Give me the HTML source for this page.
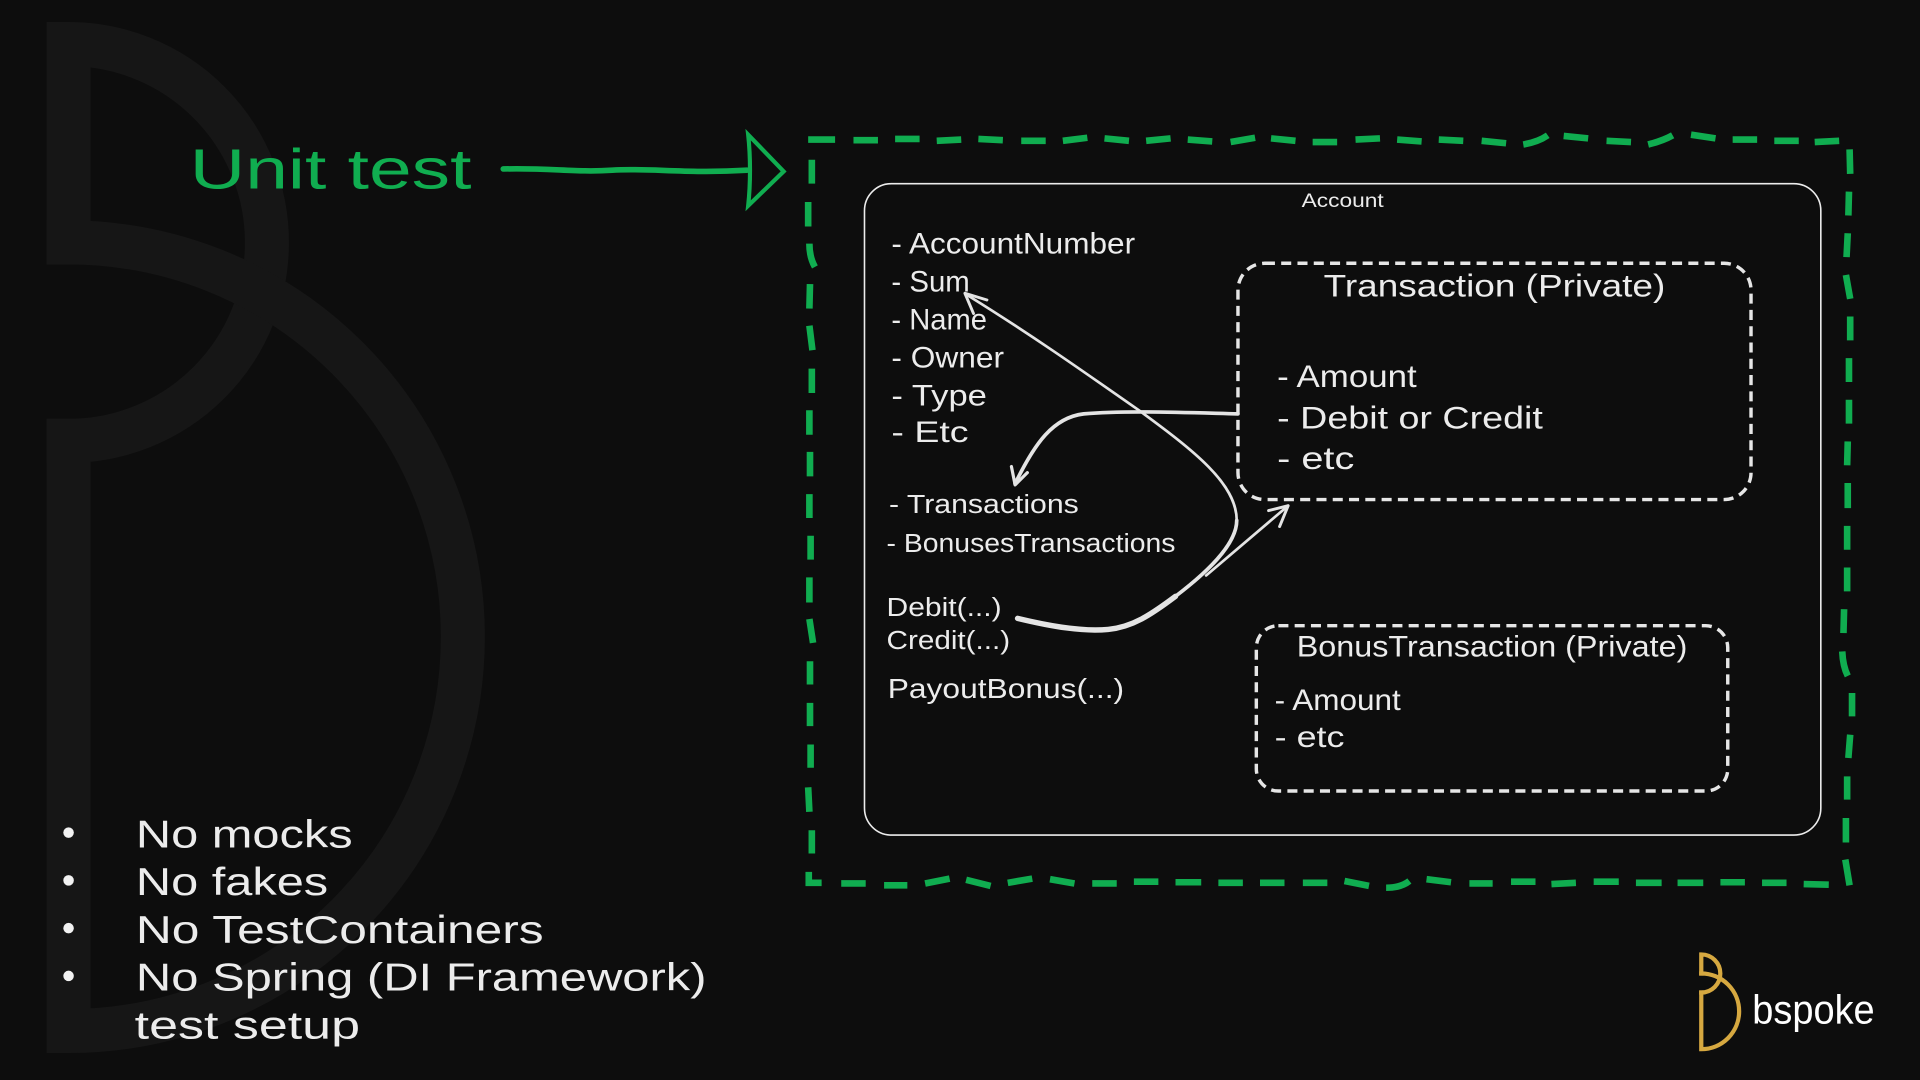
<!DOCTYPE html>
<html lang="en">
<head>
<meta charset="utf-8">
<title>Unit test</title>
<style>
html,body{margin:0;padding:0;background:#0d0d0d;width:1920px;height:1080px;overflow:hidden}
svg{display:block}
text{font-family:"Liberation Sans",sans-serif;fill:#ececec}
</style>
</head>
<body>
<svg width="1920" height="1080" viewBox="0 0 1568 882" xmlns="http://www.w3.org/2000/svg">
<rect width="1568" height="882" fill="#0d0d0d"/>
<!-- watermark -->
<g fill="none" stroke="#161616" stroke-width="36">
<path d="M56 216V36A162 162 0 0 1 56 360H38"/>
<path d="M56 342V842A322 322 0 0 0 56 198H38"/>
</g>
<!-- logo -->
<g fill="none" stroke="#d6a840" stroke-width="36" transform="translate(1384 776) scale(.096)">
<path d="M56 216V36A162 162 0 0 1 56 360H38"/>
<path d="M56 342V842A322 322 0 0 0 56 198H38"/>
</g>
<text x="1431" y="836" font-size="33" textLength="100" lengthAdjust="spacingAndGlyphs" style="fill:#fff">bspoke</text>

<!-- Unit test -->
<text x="155" y="154" font-size="46" textLength="230" lengthAdjust="spacingAndGlyphs" style="fill:#10ad50">Unit test</text>
<path d="M411 138C450 137 470 141 500 139S560 142 610 139" fill="none" stroke="#10ad50" stroke-width="4.6" stroke-linecap="round"/>
<path d="M611 110L640 140L611 168C613 150 613 128 611 110Z" fill="none" stroke="#10ad50" stroke-width="3.4"/>

<!-- outer dashed border, top -->
<g fill="none" stroke="#10ad50" stroke-width="5.4">
<path d="M660 114H682M697 114.500H717M731 113.500H751M765 115L785 114M799 113.500L819 114.500M834 115H854M868 115L888 112.500M902 113L922 115M936 115L956 113M970 114L990 115.500M1005 116L1025 112.500M1038 113L1058 115M1072 116H1092M1107 114L1127 113M1141 114L1161 115.500M1175 114L1195 115M1210 115L1230 117M1244 118Q1256 116 1264 110.500M1277 111L1297 113M1312 115L1332 116M1346 118Q1358 115 1366 110.500M1381 110L1401 113M1415 114H1435M1449 115H1469M1482 116L1502 115"/>
<!-- right -->
<path d="M1510.500 122L1511 142M1510 156.500L1509.500 176M1509 190.500L1508 210M1507.500 224.500L1511 244M1511 258.500V278M1510 292.500V312M1510 326.500V346M1509 360.500L1508.500 380M1509 394.500V415M1508.500 429.500V449M1508.500 463.500V483M1506 497.500L1505.500 517M1504.500 532Q1505 544 1509 552M1512.500 566V585M1511 600L1509.500 619M1508.500 634V653M1507.500 668V688M1507 702L1510.500 723"/>
<!-- bottom -->
<path d="M660.500 712V721H671M687 721.500H707M722 723H741M755.500 721.500L775.500 717.500M789 718.500L809 723.500M823 721L843 717.500M857.500 718L877.500 721.500M892 721.500H912M926 720H946M960 720.500H981M995 721H1015M1029 721H1049M1064 721H1084M1098 719.500L1118 723.500M1132 725Q1144 725 1151 719.500M1165 718L1185 720.500M1200 721.500H1219M1234 720H1254M1267 722L1287 721M1301.500 720H1322M1336 721H1357M1370 721H1391M1405 720.500H1425M1439 721H1459M1473 722L1493.500 722.500"/>
<!-- left -->
<path d="M663 130.500V150M660 165V185M661 199Q661 210 665.500 218M661.500 232L661 252M661 266L663.500 286M663 301V321M661 335V355M661.500 369V389M661 403.500V423M662 437.500V457M661 471.500V492M661 505.500L664 525M661.500 540V559M661.500 574V593M662 608V627M660 643L661 663M663 678V697"/>
</g>

<!-- Account box -->
<rect x="706" y="150" width="781" height="532" rx="22" fill="none" stroke="#ececec" stroke-width="1.3"/>
<text x="1063" y="169" font-size="15.5" textLength="67" lengthAdjust="spacingAndGlyphs">Account</text>

<!-- fields -->
<g font-size="24">
<text x="728" y="207" textLength="199" lengthAdjust="spacingAndGlyphs">- AccountNumber</text>
<text x="728" y="238" textLength="64" lengthAdjust="spacingAndGlyphs">- Sum</text>
<text x="728" y="269" textLength="78" lengthAdjust="spacingAndGlyphs">- Name</text>
<text x="728" y="300" textLength="92" lengthAdjust="spacingAndGlyphs">- Owner</text>
<text x="728" y="331" textLength="78" lengthAdjust="spacingAndGlyphs">- Type</text>
<text x="728" y="361" textLength="63" lengthAdjust="spacingAndGlyphs">- Etc</text>
</g>
<g font-size="21.5">
<text x="726" y="419" textLength="155" lengthAdjust="spacingAndGlyphs">- Transactions</text>
<text x="724" y="451" textLength="236" lengthAdjust="spacingAndGlyphs">- BonusesTransactions</text>
<text x="724" y="503" textLength="94" lengthAdjust="spacingAndGlyphs">Debit(...)</text>
<text x="724" y="530" textLength="101" lengthAdjust="spacingAndGlyphs">Credit(...)</text>
<text x="725" y="570" font-size="23" textLength="193" lengthAdjust="spacingAndGlyphs">PayoutBonus(...)</text>
</g>

<!-- Transaction box -->
<rect x="1011" y="215" width="419" height="193" rx="22" fill="none" stroke="#e6e6e6" stroke-width="2.8" stroke-dasharray="8.2 5.1"/>
<text x="1081" y="242" font-size="26" textLength="279" lengthAdjust="spacingAndGlyphs">Transaction (Private)</text>
<g font-size="26">
<text x="1043" y="316" textLength="114" lengthAdjust="spacingAndGlyphs">- Amount</text>
<text x="1043" y="350" textLength="217" lengthAdjust="spacingAndGlyphs">- Debit or Credit</text>
<text x="1043" y="383" textLength="63" lengthAdjust="spacingAndGlyphs">- etc</text>
</g>

<!-- BonusTransaction box -->
<rect x="1026" y="511" width="385" height="135" rx="18" fill="none" stroke="#e6e6e6" stroke-width="2.8" stroke-dasharray="8.2 5.1"/>
<text x="1059" y="536" font-size="24" textLength="319" lengthAdjust="spacingAndGlyphs">BonusTransaction (Private)</text>
<g font-size="24">
<text x="1041" y="580" textLength="103" lengthAdjust="spacingAndGlyphs">- Amount</text>
<text x="1041" y="610" textLength="57" lengthAdjust="spacingAndGlyphs">- etc</text>
</g>

<!-- connectors -->
<g fill="none" stroke="#e4e4e4" stroke-linecap="round" stroke-linejoin="round">
<path d="M831 505C860 512 885 516 905 514C925 512 940 502 960 487" stroke-width="4.4"/>
<path d="M960 487C985 468 1010 445 1010 425" stroke-width="3"/>
<path d="M1010 425C1010 395 975 368 930 335C880 300 840 272 790 241" stroke-width="2.2"/>
<path d="M806 245L788 239.500L795 256" stroke-width="2.4"/>
<path d="M985 470L1052 413" stroke-width="2.2"/>
<path d="M1036 417L1052 413L1045 430" stroke-width="2.4"/>
<path d="M1011 338C970 337 920 335 885 338C860 341 845 362 829 395" stroke-width="3"/>
<path d="M826 381L829 396L839 386" stroke-width="2.6"/>
</g>

<!-- bullet list -->
<g fill="#f2f2f2">
<circle cx="56" cy="680" r="4.3"/>
<circle cx="56" cy="719" r="4.3"/>
<circle cx="56" cy="758" r="4.3"/>
<circle cx="56" cy="797" r="4.3"/>
</g>
<g font-size="32">
<text x="111" y="692" textLength="177" lengthAdjust="spacingAndGlyphs">No mocks</text>
<text x="111" y="731" textLength="157" lengthAdjust="spacingAndGlyphs">No fakes</text>
<text x="111" y="770" textLength="333" lengthAdjust="spacingAndGlyphs">No TestContainers</text>
<text x="111" y="809" textLength="466" lengthAdjust="spacingAndGlyphs">No Spring (DI Framework)</text>
<text x="110" y="848" textLength="184" lengthAdjust="spacingAndGlyphs">test setup</text>
</g>
</svg>
</body>
</html>
